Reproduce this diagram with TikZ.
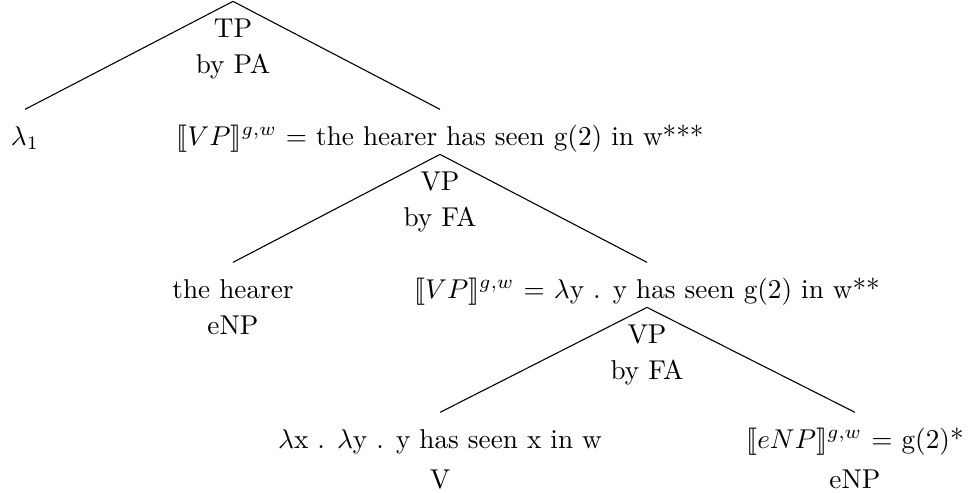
\documentclass[tikz,border=0pt]{standalone}
\usepackage{amsmath,amssymb,stmaryrd}
\usepackage{tikz}
\begin{document}
\begin{tikzpicture}[x=0.3676pt,y=-0.3676pt,
  lab/.style={anchor=base,inner xsep=0pt,inner ysep=5.9pt,text height=7pt,text depth=2pt}]
\useasboundingbox (0,0) rectangle (976,493);
\node[lab] (tp) at (233,37) {TP};
\node[lab] (tprule) at (233,73) {by PA};
\node[lab] (lam) at (25,145) {$\lambda_1$};
\node[lab] (vpden1) at (440,145) {$\llbracket VP\rrbracket^{g,w}$ = the hearer has seen g(2) in w***};
\node[lab] (vp1) at (440,190) {VP};
\node[lab] (vp1rule) at (440,226) {by FA};
\node[lab] (hearer) at (233,298) {the hearer};
\node[lab] (hearercat) at (233,334) {eNP};
\node[lab] (vpden2) at (647,298) {$\llbracket VP\rrbracket^{g,w}$ = $\lambda$y . y has seen g(2) in w**};
\node[lab] (vp2) at (647,343) {VP};
\node[lab] (vp2rule) at (647,379) {by FA};
\node[lab] (vden) at (440,448) {$\lambda$x . $\lambda$y . y has seen x in w};
\node[lab] (vcat) at (440,488) {V};
\node[lab] (enpden) at (855,448) {$\llbracket eNP\rrbracket^{g,w}$ = g(2)*};
\node[lab] (enpcat) at (855,488) {eNP};
\draw (tp.north) -- (lam.north);
\draw (tp.north) -- (vpden1.north);
\draw (vp1.north) -- (hearer.north);
\draw (vp1.north) -- (vpden2.north);
\draw (vp2.north) -- (vden.north);
\draw (vp2.north) -- (enpden.north);
\end{tikzpicture}
\end{document}
